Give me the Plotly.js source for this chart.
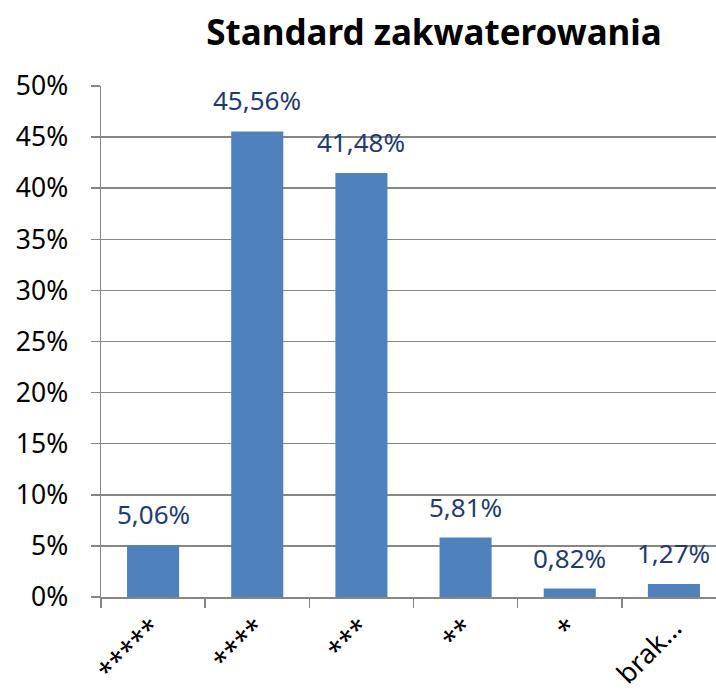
<!DOCTYPE html>
<html>
<head>
<meta charset="utf-8">
<script src="https://cdn.plot.ly/plotly-3.0.1.min.js"></script>
<style>
html,body{margin:0;padding:0;overflow:hidden;background:#fff;}
#chart{width:740px;height:694px;}
</style>
</head>
<body>
<div id="chart"></div>
<script>
var categories = ["*****", "****", "***", "**", "*", "brak…"];
var values = [0.0506, 0.4556, 0.4148, 0.0581, 0.0082, 0.0127];
var yTickVals = [0, 0.05, 0.10, 0.15, 0.20, 0.25, 0.30, 0.35, 0.40, 0.45, 0.50];

var FONT = "Noto Sans, Open Sans, sans-serif";

var labels = values.map(function(v){ return (v*100).toFixed(2).replace('.', ',') + '%'; });

var trace = {
  type: 'bar',
  x: categories,
  y: values,
  marker: {color: '#4F81BD'},
  hoverinfo: 'none'
};

var annotations = categories.map(function(c, i){
  return {
    x: c, y: values[i], xref: 'x', yref: 'y',
    text: labels[i], showarrow: false,
    yanchor: 'bottom', yshift: 11,
    font: {family: FONT, size: 26, color: '#1F3B73'}
  };
});

var layout = {
  width: 740, height: 694,
  margin: {l: 101, r: 14, t: 86, b: 97},
  paper_bgcolor: '#fff', plot_bgcolor: '#fff',
  bargap: 0.5,
  showlegend: false,
  separators: ',.',
  title: {
    text: '<b>Standard zakwaterowania</b>',
    font: {family: FONT, size: 35, color: '#000'},
    xref: 'container', yref: 'container',
    x: 434/740, xanchor: 'center',
    y: 1 - 33/694, yanchor: 'middle'
  },
  xaxis: {
    type: 'category',
    tickson: 'boundaries',
    ticks: 'outside', ticklen: 9, tickcolor: '#868686', tickwidth: 1.5,
    showline: true, linecolor: '#868686', linewidth: 1.5,
    showgrid: false, zeroline: false,
    tickangle: -45,
    ticklabelstandoff: 3,
    tickfont: {family: FONT, size: 27, color: '#000'}
  },
  yaxis: {
    range: [0, 0.5],
    tickvals: yTickVals,
    tickformat: '.0%',
    ticks: 'outside', ticklen: 9, tickcolor: '#868686', tickwidth: 1.5,
    showline: true, linecolor: '#868686', linewidth: 1.5,
    showgrid: true, gridcolor: '#868686', gridwidth: 1.5,
    zeroline: false,
    ticklabelstandoff: 17,
    tickfont: {family: FONT, size: 26.5, color: '#000'}
  },
  annotations: annotations
};

Plotly.newPlot('chart', [trace], layout, {displayModeBar: false, staticPlot: true});
</script>
</body>
</html>
